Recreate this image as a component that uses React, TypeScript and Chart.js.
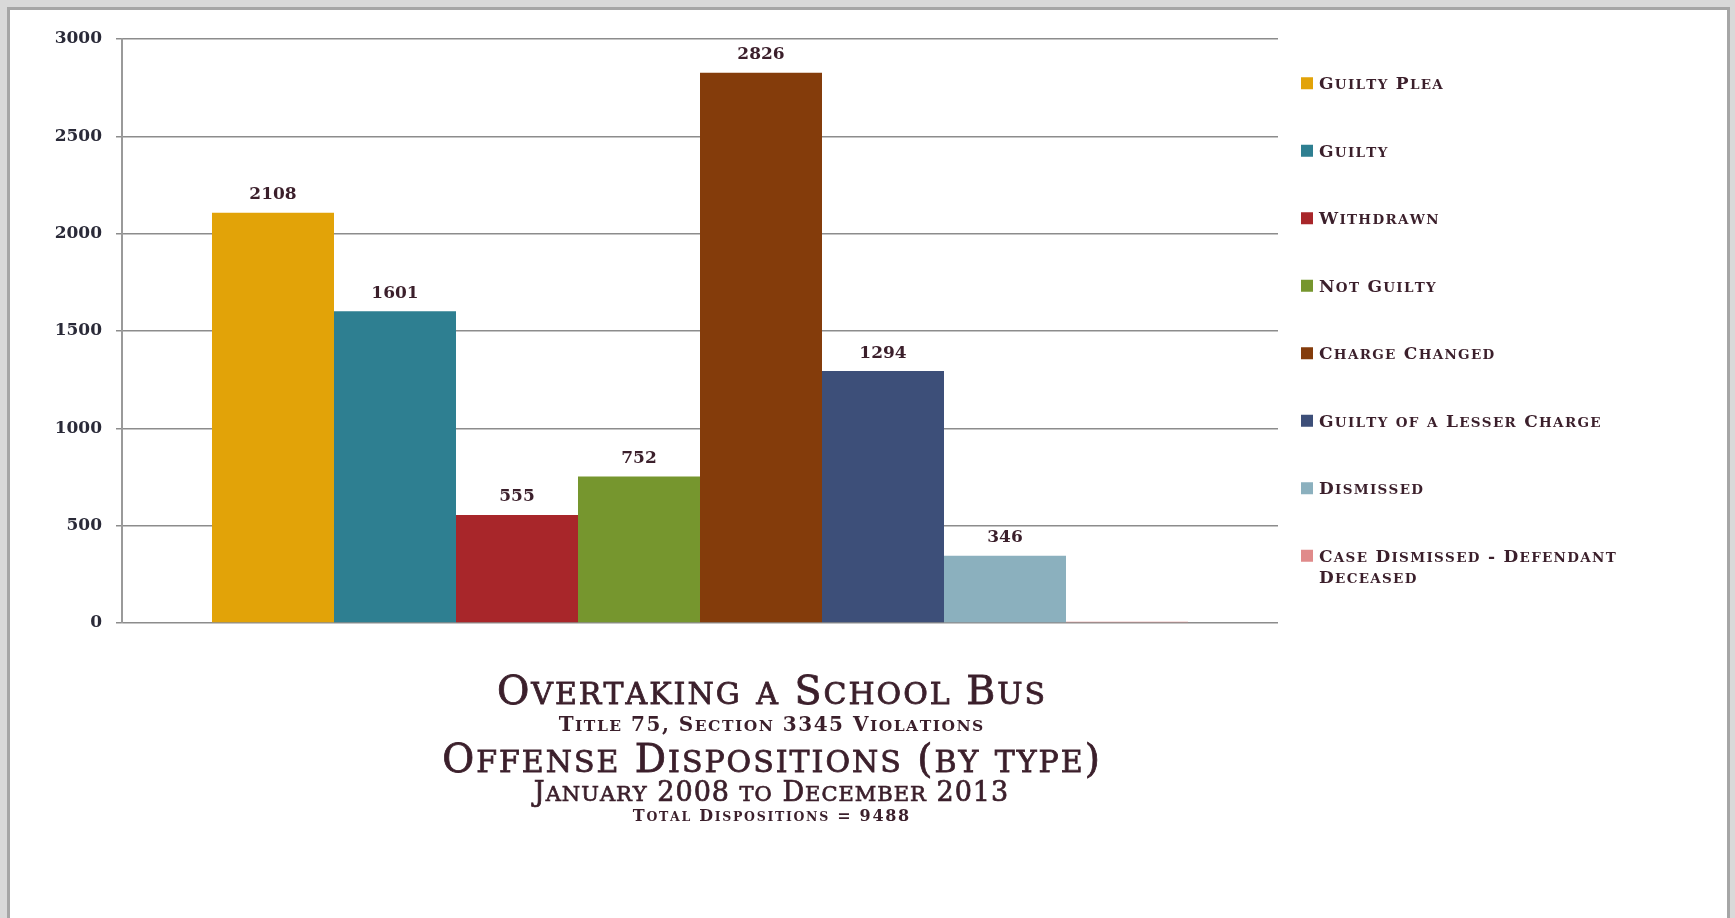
import { useEffect, useRef } from 'react';
import { Chart, registerables } from 'chart.js';

Chart.register(...registerables);

const categories = [''];
const seriesNames = [
  'Guilty Plea',
  'Guilty',
  'Withdrawn',
  'Not Guilty',
  'Charge Changed',
  'Guilty of a Lesser Charge',
  'Dismissed',
  'Case Dismissed - Defendant Deceased',
];
const seriesValues = [2108, 1601, 555, 752, 2826, 1294, 346, 6];
const seriesColors = ['#E2A308', '#2E7F91', '#A8262A', '#76962E', '#843C0B', '#3D4F79', '#8BB0BE', '#E08A8A'];
const yTicks = [0, 500, 1000, 1500, 2000, 2500, 3000];
const titleLines = [
  'Overtaking a School Bus',
  'Title 75, Section 3345 Violations',
  'Offense Dispositions (by type)',
  'January 2008 to December 2013',
  'Total Dispositions = 9488',
];

const SERIF = "'DejaVu Serif', serif";
const TEXT_COLOR = '#3b1f2b';

type SCOpts = { cap: number; small: number; spacing: number; weight: string; align: 'left' | 'center'; stroke?: number };

function measureSmallCaps(ctx: CanvasRenderingContext2D, text: string, o: SCOpts) {
  const parts = [...text].map((ch) => {
    const lower = ch !== ch.toUpperCase();
    return { ch: ch.toUpperCase(), size: lower ? o.small : o.cap };
  });
  const widths = parts.map((p) => {
    ctx.font = `${o.weight} ${p.size}px ${SERIF}`;
    return ctx.measureText(p.ch).width;
  });
  const total = widths.reduce((a, b) => a + b, 0) + o.spacing * Math.max(0, parts.length - 1);
  return { parts, widths, total };
}

function drawSmallCaps(ctx: CanvasRenderingContext2D, text: string, x: number, y: number, o: SCOpts) {
  const { parts, widths, total } = measureSmallCaps(ctx, text, o);
  let cx = o.align === 'center' ? x - total / 2 : x;
  ctx.textAlign = 'left';
  ctx.textBaseline = 'alphabetic';
  parts.forEach((p, i) => {
    ctx.font = `${o.weight} ${p.size}px ${SERIF}`;
    ctx.fillText(p.ch, cx, y);
    if (o.stroke) {
      ctx.lineWidth = o.stroke;
      ctx.strokeText(p.ch, cx, y);
    }
    cx += widths[i] + o.spacing;
  });
  return total;
}

const dataLabelPlugin = {
  id: 'dataLabels',
  afterDatasetsDraw(chart: any) {
    const ctx: CanvasRenderingContext2D = chart.ctx;
    ctx.save();
    ctx.fillStyle = TEXT_COLOR;
    ctx.font = `bold 17px ${SERIF}`;
    ctx.textAlign = 'center';
    ctx.textBaseline = 'middle';
    chart.data.datasets.forEach((ds: any, i: number) => {
      const v = ds.data[0];
      if (v < 10) return;
      const el = chart.getDatasetMeta(i).data[0];
      ctx.fillText(String(v), el.x, el.y - 18);
    });
    ctx.restore();
  },
};

const legendPlugin = {
  id: 'customLegend',
  afterDraw(chart: any) {
    const ctx: CanvasRenderingContext2D = chart.ctx;
    const area = chart.chartArea;
    const o: SCOpts = { cap: 17, small: 13.5, spacing: 1.3, weight: 'bold', align: 'left' };
    const step = 67.5;
    const lineH = 21;
    const maxW = 330;
    const items = chart.data.datasets.map((ds: any) => {
      const words = String(ds.label).split(' ');
      const lines: string[] = [];
      let cur = '';
      words.forEach((w) => {
        const test = cur ? cur + ' ' + w : w;
        if (cur && measureSmallCaps(ctx, test, o).total > maxW) {
          lines.push(cur);
          cur = w;
        } else cur = test;
      });
      if (cur) lines.push(cur);
      return { lines, color: ds.backgroundColor };
    });
    const extra = items.reduce((a: number, it: any) => a + (it.lines.length - 1) * lineH, 0);
    const total = (items.length - 1) * step + extra;
    let y = (area.top + area.bottom) / 2 - total / 2 - 1;
    const boxX = area.right + 23;
    const box = 12;
    ctx.save();
    items.forEach((it: any) => {
      ctx.fillStyle = it.color;
      ctx.fillRect(boxX, y - box / 2, box, box);
      ctx.fillStyle = TEXT_COLOR;
      it.lines.forEach((ln: string, j: number) => {
        drawSmallCaps(ctx, ln, boxX + 18, y + 6 + j * lineH, o);
      });
      y += step + (it.lines.length - 1) * lineH;
    });
    ctx.restore();
  },
};

const titlePlugin = {
  id: 'bottomTitle',
  afterDraw(chart: any) {
    const ctx: CanvasRenderingContext2D = chart.ctx;
    const styles: (SCOpts & { cy: number })[] = [
      { cap: 39.5, small: 30, spacing: 2, weight: 'normal', align: 'center', cy: 690, stroke: 0.8 },
      { cap: 20, small: 15.5, spacing: 1.5, weight: 'bold', align: 'center', cy: 724 },
      { cap: 39, small: 30, spacing: 2, weight: 'normal', align: 'center', cy: 758, stroke: 0.8 },
      { cap: 27, small: 21, spacing: 1, weight: 'normal', align: 'center', cy: 791, stroke: 0.7 },
      { cap: 16, small: 12.5, spacing: 1.7, weight: 'bold', align: 'center', cy: 815 },
    ];
    ctx.save();
    ctx.fillStyle = TEXT_COLOR;
    ctx.strokeStyle = TEXT_COLOR;
    titleLines.forEach((t, i) => {
      const s = styles[i];
      drawSmallCaps(ctx, t, 771, s.cy + s.cap * 0.36, s);
    });
    ctx.restore();
  },
};

export default function App() {
  const ref = useRef<HTMLCanvasElement | null>(null);
  useEffect(() => {
    if (!ref.current) return;
    const chart = new Chart(ref.current, {
      type: 'bar',
      data: {
        labels: categories,
        datasets: seriesNames.map((n, i) => ({
          label: n,
          data: [seriesValues[i]],
          backgroundColor: seriesColors[i],
          borderWidth: 0,
          categoryPercentage: 0.8443,
          barPercentage: 1,
        })),
      },
      options: {
        animation: false,
        responsive: false,
        maintainAspectRatio: false,
        devicePixelRatio: 1,
        layout: { padding: { left: 0, right: 457, top: 39, bottom: 295 } },
        plugins: {
          legend: { display: false },
          title: { display: false },
          tooltip: { enabled: false },
        },
        scales: {
          x: { display: false },
          y: {
            min: 0,
            max: 3000,
            afterBuildTicks: (s: any) => {
              s.ticks = yTicks.map((v) => ({ value: v }));
            },
            afterFit: (s: any) => {
              s.width = 122;
            },
            ticks: {
              padding: 14,
              color: '#2a2a38',
              font: { family: SERIF, size: 17, weight: 'bold' },
              callback: (v: any) => String(v),
            },
            grid: { color: '#8c8c8c', lineWidth: 1.5, tickLength: 6 },
            border: { color: '#9a9a9a', width: 2 },
          },
        },
      } as any,
      plugins: [dataLabelPlugin, legendPlugin, titlePlugin],
    });
    return () => chart.destroy();
  }, []);

  return (
    <div style={{ position: 'fixed', left: 0, top: 0, width: 1735, height: 918, background: '#d9d9d9', overflow: 'hidden' }}>
      <div
        style={{
          position: 'absolute',
          left: 7,
          top: 7,
          width: 1717,
          height: 1000,
          background: '#ffffff',
          border: '3px solid #a6a6a6',
        }}
      />
      <canvas ref={ref} width={1735} height={918} style={{ position: 'absolute', left: 0, top: 0, width: 1735, height: 918 }} />
    </div>
  );
}
